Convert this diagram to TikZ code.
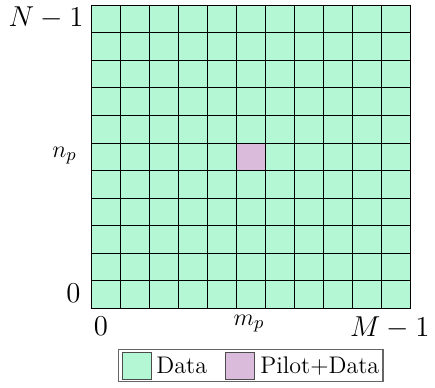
\documentclass[tikz,border=0pt]{standalone}
\definecolor{datagreen}{RGB}{180,247,213}
\definecolor{pilotpink}{RGB}{219,187,220}
\tikzset{
  cellgrid/.style={draw=black,line width=0.5pt},
  lbl/.style={inner sep=0pt,font=\fontsize{14.6}{17}\selectfont},
  smalllbl/.style={inner sep=0pt,font=\fontsize{13}{16}\selectfont},
  zerolbl/.style={inner sep=0pt,font=\fontsize{14.2}{17}\selectfont},
  legtext/.style={inner sep=0pt,font=\large},
  swatch/.style={draw=black!70,line width=0.5pt},
}
\begin{document}
\begin{tikzpicture}[x=0.5pt,y=-0.5pt]
\useasboundingbox (0,0) rectangle (435,387);
% grid
\def\cw{29.05}\def\ch{27.55}
\fill[datagreen] (91,5.5) rectangle (410.5,308.5);
\fill[pilotpink] (236.25,143.25) rectangle (265.3,170.8);
\foreach \i in {0,...,11}{
  \draw[cellgrid] ({91+\i*\cw},5.5) -- ({91+\i*\cw},308.5);
  \draw[cellgrid] (91,{5.3+\i*\ch}) -- (410.5,{5.3+\i*\ch});
}
% axis labels
\node[lbl,anchor=base east] (nmax) at (84,26) {$N-1$};
\node[smalllbl,anchor=base east] (np) at (77,157) {$n_p$};
\node[zerolbl,anchor=base east] (nzero) at (81,302) {$0$};
\node[zerolbl,anchor=base west] (mzero) at (93.5,335) {$0$};
\node[smalllbl,anchor=base] (mp) at (249,325) {$m_p$};
\node[lbl,anchor=base east] (mmax) at (430,336) {$M-1$};
% legend
\draw[draw=black!60,line width=0.6pt,fill=white] (118.5,349.5) rectangle (383,381.5);
\draw[swatch,fill=datagreen] (122,352) rectangle (151,379);
\node[legtext,anchor=base west] (ldata) at (156,373) {Data};
\draw[swatch,fill=pilotpink] (225,352) rectangle (254,379);
\node[legtext,anchor=base west] (lpilot) at (260,373) {Pilot+Data};
\end{tikzpicture}
\end{document}
